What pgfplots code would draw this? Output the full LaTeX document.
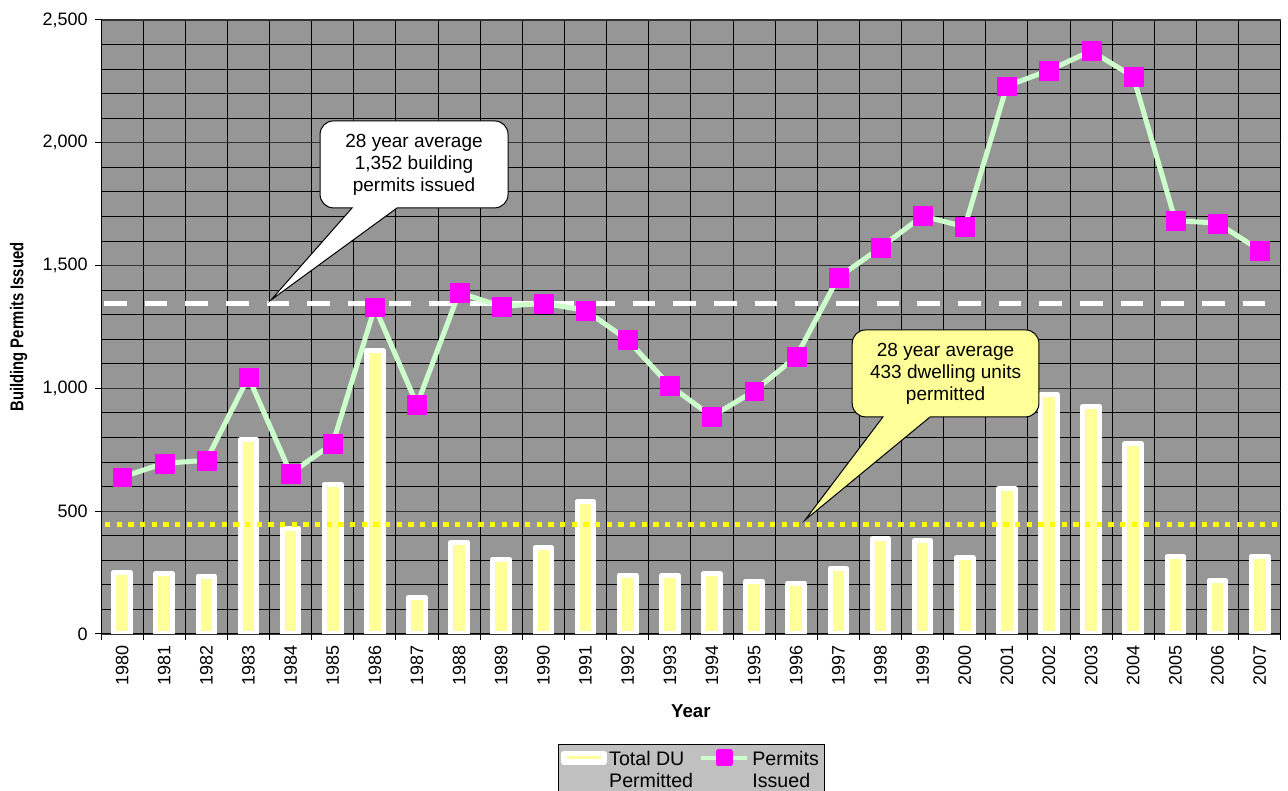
\documentclass[border=0pt]{standalone}
\usepackage{fontspec}
\setmainfont{Liberation Sans}
\usepackage{pgfplots}
\usepackage{pgfplotstable}
\pgfplotsset{compat=1.18}
\usepackage{graphicx}
\definecolor{plotgray}{RGB}{150,150,150}
\definecolor{barfill}{RGB}{255,255,153}
\definecolor{linegreen}{RGB}{204,255,204}
\definecolor{mkmag}{RGB}{255,0,255}
\definecolor{avgyellow}{RGB}{255,255,0}
\definecolor{legendgray}{RGB}{192,192,192}
\definecolor{calloutyellow}{RGB}{255,255,153}

\pgfplotstableread{
x year du permits
0 1980 250 639
1 1981 246 695
2 1982 236 707
3 1983 793 1046
4 1984 430 654
5 1985 610 775
6 1986 1154 1331
7 1987 150 934
8 1988 374 1390
9 1989 305 1334
10 1990 352 1346
11 1991 538 1318
12 1992 240 1197
13 1993 238 1011
14 1994 245 886
15 1995 213 989
16 1996 207 1129
17 1997 266 1452
18 1998 388 1573
19 1999 379 1702
20 2000 311 1658
21 2001 593 2231
22 2002 975 2295
23 2003 927 2374
24 2004 774 2269
25 2005 315 1683
26 2006 217 1673
27 2007 317 1563
}\datatable

\begin{document}
\begin{tikzpicture}
\path[use as bounding box] (0,0) rectangle (966pt,593.25pt);
\begin{axis}[
  at={(75.75pt,117.75pt)}, anchor=south west,
  scale only axis, width=884.8pt, height=460.5pt,
  xmin=-0.5, xmax=27.5, ymin=0, ymax=2500,
  axis lines=left,
  axis line style={-, black, line width=0.75pt},
  axis background/.style={fill=plotgray, draw=gray, line width=0.75pt},
  xtick={0,...,27},
  xticklabels={1980,1981,1982,1983,1984,1985,1986,1987,1988,1989,1990,1991,1992,1993,1994,1995,1996,1997,1998,1999,2000,2001,2002,2003,2004,2005,2006,2007},
  minor xtick={-0.5,0.5,...,27.5},
  ytick={0,500,...,2500},
  minor ytick={0,100,...,2500},
  xminorgrids=true, ymajorgrids=true, yminorgrids=true,
  minor grid style={black, line width=0.75pt},
  major grid style={black!80, line width=1pt},
  tick align=outside,
  major tick length=4.5pt, minor tick length=4.5pt,
  major x tick style={draw=none},
  minor x tick style={black, line width=0.75pt},
  minor y tick style={draw=none},
  major y tick style={black, line width=0.75pt},
  /pgf/number format/assume math mode=true,
  /pgf/number format/.cd, fixed, 1000 sep={,}, /pgfplots/.cd,
  every tick label/.append style={font=\fontsize{13.5}{16}\selectfont},
  yticklabel style={anchor=east, inner sep=0pt, xshift=-5.25pt},
  xticklabel style={yshift=-4pt, rotate=90, anchor=east, inner sep=0pt},
  xlabel={Year},
  xlabel style={font=\bfseries\fontsize{14}{16}\selectfont, at={(axis description cs:0.5,-0.1254)}, anchor=center},
  ylabel={\scalebox{0.8}[1]{Building Permits Issued}},
  ylabel style={font=\bfseries\fontsize{13.9}{16}\selectfont, at={(axis description cs:-0.0699,0.5)}, anchor=center},
  legend columns=2,
  legend style={at={(axis description cs:0.3874,-0.1792)}, anchor=north west,
    fill=legendgray, draw=black, line width=0.75pt,
    font=\fontsize{14.7}{16.3}\selectfont,
    cells={anchor=west, align=left},
    inner xsep=2pt, inner ysep=3pt,
    /tikz/every even column/.append style={column sep=2pt}},
]
\addplot[ybar, bar width=12.5pt, fill=barfill, draw=white, line width=3.75pt, line join=round,
  legend image code/.code={\draw[white, line width=4pt, fill=barfill, line join=round] (0pt,6pt) rectangle (30pt,12.5pt);}]
  table[x=x, y=du] {\datatable};
\addlegendentry{Total DU\\Permitted}
\addplot[white, line width=3.75pt, dash pattern=on 17pt off 13.5pt, dash phase=28.25pt, forget plot]
  coordinates {(-0.5,1345) (27.5,1345)};
\addplot[avgyellow, line width=3.75pt, dash pattern=on 4.1pt off 4.65pt, dash phase=5.75pt, forget plot]
  coordinates {(-0.5,444) (27.5,444)};
\addplot[linegreen, line width=3.75pt, line join=round,
  mark=square*, mark size=7.1pt, mark options={fill=mkmag, draw=mkmag, line width=0.1pt, solid},
  legend image code/.code={\draw[linegreen, line width=3.5pt] (0pt,9.2pt) -- (35pt,9.2pt); \fill[mkmag] (13pt,4.7pt) rectangle (22pt,13.7pt);}]
  table[x=x, y=permits] {\datatable};
\addlegendentry{Permits\\Issued}
% white callout
\draw[fill=white, line width=0.75pt]
  (axis cs:5.46,1735) -- ([xshift=10pt]axis cs:4.70,1735) arc[start angle=270, end angle=180, radius=10pt]
  -- ([yshift=-10pt]axis cs:4.70,2089) arc[start angle=180, end angle=90, radius=10pt]
  -- ([xshift=-10pt]axis cs:9.16,2089) arc[start angle=90, end angle=0, radius=10pt]
  -- ([yshift=10pt]axis cs:9.16,1735) arc[start angle=0, end angle=-90, radius=10pt]
  -- (axis cs:6.53,1735) -- (axis cs:3.535,1360) -- cycle;
\node[align=center, font=\fontsize{14.25}{16.5}\selectfont] at (axis cs:6.93,1912) {28 year average\\1,352 building\\permits issued};
% yellow callout
\draw[fill=calloutyellow, line width=0.75pt]
  (axis cs:18.06,884) -- ([xshift=10pt]axis cs:17.33,884) arc[start angle=270, end angle=180, radius=10pt]
  -- ([yshift=-10pt]axis cs:17.33,1238) arc[start angle=180, end angle=90, radius=10pt]
  -- ([xshift=-10pt]axis cs:21.76,1238) arc[start angle=90, end angle=0, radius=10pt]
  -- ([yshift=10pt]axis cs:21.76,884) arc[start angle=0, end angle=-90, radius=10pt]
  -- (axis cs:19.18,884) -- (axis cs:16.21,464) -- cycle;
\node[align=center, font=\fontsize{14.25}{16.5}\selectfont] at (axis cs:19.545,1061) {28 year average\\433 dwelling units\\permitted};
\end{axis}
\end{tikzpicture}
\end{document}
